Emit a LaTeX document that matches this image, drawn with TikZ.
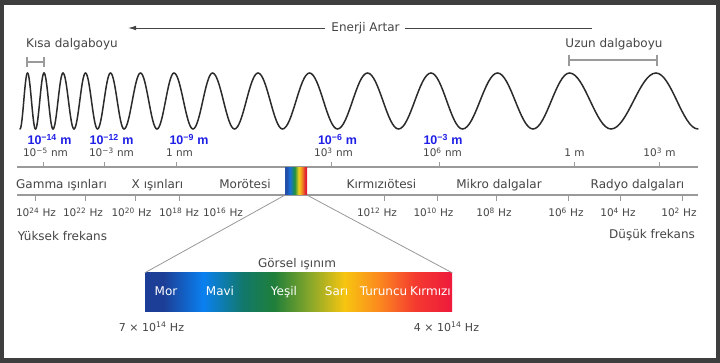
\documentclass[tikz,border=0pt]{standalone}
\usepackage{fontspec}
\setmainfont{DejaVu Sans}
\newfontfamily\arialfont{Liberation Sans}
\usetikzlibrary{arrows.meta,calc}
\definecolor{framec}{HTML}{3E3E3E}
\definecolor{txt}{HTML}{454545}
\definecolor{labblue}{HTML}{1E1EE6}
\definecolor{axisc}{HTML}{9A9A9A}
\definecolor{wavec}{HTML}{2B2B2B}
\definecolor{vA}{HTML}{1D3E96}
\definecolor{vB}{HTML}{0A80F0}
\definecolor{vC}{HTML}{12786A}
\definecolor{vD}{HTML}{1F7F3A}
\definecolor{vE}{HTML}{8AA82A}
\definecolor{vF}{HTML}{F7C510}
\definecolor{vG}{HTML}{FB8A1E}
\definecolor{vH}{HTML}{F43A30}
\definecolor{vI}{HTML}{EE1A3C}
\definecolor{rA}{HTML}{2350A8}
\definecolor{rB}{HTML}{1A70D8}
\definecolor{rC}{HTML}{1E9040}
\definecolor{rD}{HTML}{F0D020}
\definecolor{rE}{HTML}{F09020}
\definecolor{rF}{HTML}{E02030}
\pgfdeclarehorizontalshading{visible}{100bp}{color(0bp)=(vA); color(25bp)=(vA); color(28bp)=(vA); color(34.5bp)=(vB); color(41bp)=(vC); color(46bp)=(vD); color(52bp)=(vE); color(57.5bp)=(vF); color(63bp)=(vG); color(69bp)=(vH); color(75bp)=(vI); color(100bp)=(vI)}
\pgfdeclarehorizontalshading{rainbow}{100bp}{color(0bp)=(rA); color(25bp)=(rA); color(29bp)=(rA); color(36bp)=(rB); color(47bp)=(rC); color(56bp)=(rD); color(63bp)=(rE); color(71bp)=(rF); color(75bp)=(rF); color(100bp)=(rF)}
\begin{document}
\begin{tikzpicture}[x=1pt,y=-1pt,
  lbl/.style={font=\fontsize{12}{14}\selectfont, text=txt, inner sep=0pt, anchor=base},
  sml/.style={font=\fontsize{10.5}{12}\selectfont, text=txt, inner sep=0pt, anchor=base},
  bluelbl/.style={font=\arialfont\bfseries\fontsize{12.5}{14}\selectfont, text=labblue, inner sep=0pt, anchor=base},
  vislbl/.style={font=\fontsize{12}{14}\selectfont, text=white, inner sep=0pt, anchor=base},
  wave/.style={draw=wavec, line width=1.5pt, line cap=round},
  axisline/.style={draw=axisc, line width=1.3pt},
  tick/.style={draw=axisc, line width=1pt},
  bracket/.style={draw=axisc, line width=1.2pt},
  arrowline/.style={draw=txt, line width=0.9pt},
  guide/.style={draw=gray!80, line width=0.8pt}]
\useasboundingbox (0,0) rectangle (720,363);
% frame
\fill[framec] (0,0) rectangle (720,363);
\fill[white] (4,5) rectangle (716,358);

% energy arrow
\node[lbl] (energy) at (365.5,32) {Enerji Artar};
\coordinate (arrL) at (128,28);
\coordinate (arrR) at (592,28);
\draw[arrowline, -{Latex[length=8pt,width=4.5pt]}] ($(energy.west |- arrL)+(-6,0)$) -- (arrL);
\draw[arrowline] ($(energy.east |- arrR)+(5,0)$) -- (arrR);

% wavelength brackets
\node[lbl] (kisa) at (72,48) {Kısa dalgaboyu};
\node[lbl] (uzun) at (614,48) {Uzun dalgaboyu};
\draw[bracket] (27,57) -- (27,67) (27,62) -- (44,62) (44,57) -- (44,67);
\draw[bracket] (569,55) -- (569,66) (569,60) -- (657,60) (657,55) -- (657,66);

% wave
\foreach \a/\b [count=\i] in {20/27.5, 27.5/35.5, 35.5/44, 44/53, 53/63, 63/74, 74/85.5, 85.5/97.5, 97.5/110.5, 110.5/124, 124/140.5, 140.5/157, 157/174, 174/193, 193/212.5, 212.5/234.5, 234.5/258, 258/282.5, 282.5/309.5, 309.5/337.5, 337.5/367.5, 367.5/398.5, 398.5/431, 431/462.5, 462.5/497.5, 497.5/533, 533/569.5, 569.5/611, 611/656, 656/698} {
  \pgfmathsetmacro\ya{isodd(\i) ? 129 : 73}
  \pgfmathsetmacro\yb{isodd(\i) ? 73 : 129}
  \pgfmathsetmacro\ca{\a+0.3634*(\b-\a)}
  \pgfmathsetmacro\cb{\b-0.3634*(\b-\a)}
  \draw[wave] (\a,\ya) .. controls (\ca,\ya) and (\cb,\yb) .. (\b,\yb);
}

% wavelength labels
\node[bluelbl] (m14) at (49.5,145) {10\textsuperscript{−14} m};
\node[bluelbl] (m12) at (111.5,145) {10\textsuperscript{−12} m};
\node[bluelbl] (m9) at (189,145) {10\textsuperscript{−9} m};
\node[bluelbl] (m6) at (337.5,145) {10\textsuperscript{−6} m};
\node[bluelbl] (m3) at (443,145) {10\textsuperscript{−3} m};
\node[sml] (nm5) at (45.5,157) {10\textsuperscript{−5} nm};
\node[sml] (nm3) at (111.5,157) {10\textsuperscript{−3} nm};
\node[sml] (nm0) at (179.5,157) {1 nm};
\node[sml] (nmp3) at (333.5,157) {10\textsuperscript{3} nm};
\node[sml] (nmp6) at (442.5,157) {10\textsuperscript{6} nm};
\node[sml] (onem) at (574.5,157) {1 m};
\node[sml] (km) at (659.5,157) {10\textsuperscript{3} m};

% axis lines
\coordinate (a1L) at (17,167);
\coordinate (a1R) at (698,167);
\coordinate (a2L) at (17,195);
\coordinate (a2R) at (698,195);
\draw[axisline] (a1L) -- (a1R);
\draw[axisline] (a2L) -- (a2R);
\foreach \x in {43,104,176,331,439,574,659} \draw[tick] (\x,162) -- (\x,167);
\foreach \x in {35,85,135,179,384,437,496,568,620,682} \draw[tick] (\x,195) -- (\x,201);

% band labels
\node[lbl] (gamma) at (61.5,189) {Gamma ışınları};
\node[lbl] (xray) at (157.5,189) {X ışınları};
\node[lbl] (uv) at (245,189) {Morötesi};
\node[lbl] (ir) at (381.5,189) {Kırmızıötesi};
\node[lbl] (micro) at (499,189) {Mikro dalgalar};
\node[lbl] (radio) at (637.5,189) {Radyo dalgaları};

% rainbow box
\node[shade, shading=rainbow, minimum width=22pt, minimum height=27pt, inner sep=0pt] (rain) at (296,181.5) {};

% frequency labels
\node[sml] (f24) at (36,217) {10\textsuperscript{24} Hz};
\node[sml] (f22) at (83,217) {10\textsuperscript{22} Hz};
\node[sml] (f20) at (131.5,217) {10\textsuperscript{20} Hz};
\node[sml] (f18) at (179,217) {10\textsuperscript{18} Hz};
\node[sml] (f16) at (223,217) {10\textsuperscript{16} Hz};
\node[sml] (f12) at (377,217) {10\textsuperscript{12} Hz};
\node[sml] (f10) at (433.5,217) {10\textsuperscript{10} Hz};
\node[sml] (f8) at (494,217) {10\textsuperscript{8} Hz};
\node[sml] (f6) at (566,217) {10\textsuperscript{6} Hz};
\node[sml] (f4) at (618,217) {10\textsuperscript{4} Hz};
\node[sml] (f2) at (679,217) {10\textsuperscript{2} Hz};
\node[lbl] (high) at (62.5,241) {Yüksek frekans};
\node[lbl] (low) at (652,239) {Düşük frekans};

% visible spectrum
\node[shade, shading=visible, minimum width=307pt, minimum height=38pt, inner sep=0pt] (vis) at (298.5,292) {};
\draw[guide] (rain.south west) -- (vis.north west);
\draw[guide] (rain.south east) -- (vis.north east);
\node[lbl] (gorsel) at (297,268) {Görsel ışınım};
\node[vislbl] (mor) at (166,295) {Mor};
\node[vislbl] (mavi) at (220,295) {Mavi};
\node[vislbl] (yesil) at (284,295) {Yeşil};
\node[vislbl] (sari) at (336.5,295) {Sarı};
\node[vislbl] (turuncu) at (383.5,295) {Turuncu};
\node[vislbl] (kirmizi) at (430.5,295) {Kırmızı};
\node[sml, font=\fontsize{11}{13}\selectfont] (f7) at (151.5,331) {7 × 10\textsuperscript{14} Hz};
\node[sml, font=\fontsize{11}{13}\selectfont] (f4b) at (446.5,331) {4 × 10\textsuperscript{14} Hz};
\end{tikzpicture}
\end{document}
